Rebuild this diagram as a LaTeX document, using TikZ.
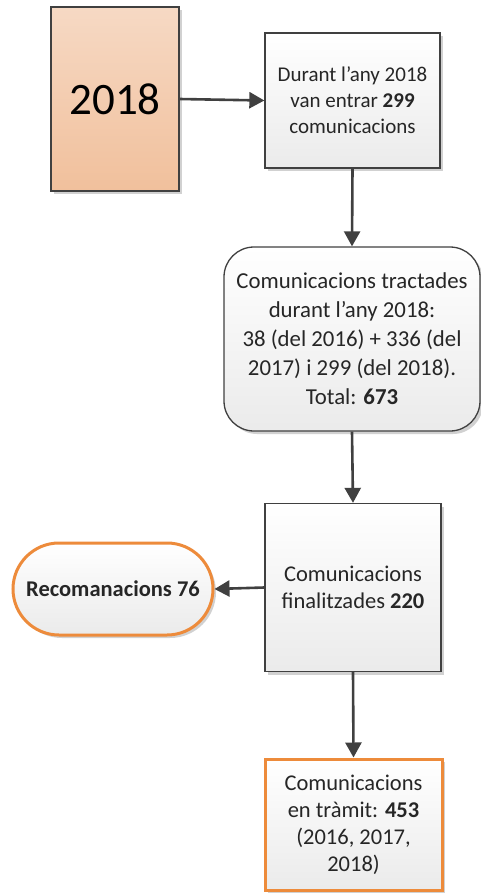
\documentclass[tikz,border=0pt]{standalone}
\usepackage{fontspec}
\setmainfont{Carlito}
\usetikzlibrary{arrows.meta,shadows}
\definecolor{edge}{HTML}{404040}
\definecolor{orng}{HTML}{ED8B3B}
\tikzset{
  shd/.style={drop shadow={shadow xshift=3pt,shadow yshift=-3pt,fill=black,opacity=0.18}},
  graybox/.style={shd,draw=edge,line width=1.3pt,top color=white,bottom color=black!8,align=center,inner sep=2pt,text=black!85},
  orangebox/.style={shd,draw=orng,line width=3pt,top color=white,bottom color=black!8,align=center,inner sep=2pt,text=black!85},
  arr/.style={draw=edge,line width=2.6pt,-{Triangle[length=15pt,width=16pt]}},
}
\begin{document}
\begin{tikzpicture}[x=1pt,y=-1pt]
\useasboundingbox (0,0) rectangle (481,894);
\node[shd,draw=edge,line width=1.3pt,top color={rgb,255:red,246;green,217;blue,196},bottom color={rgb,255:red,241;green,192;blue,156},
  minimum width=128pt,minimum height=184pt,font=\fontsize{45}{52}\selectfont] (y) at (115,99) {2018};
\node[graybox,minimum width=175pt,minimum height=135pt,font=\fontsize{21}{26}\selectfont] (b2) at (352.5,100.5)
  {Durant l’any 2018\\van entrar \textbf{299}\\comunicacions};
\node[graybox,rounded corners=30pt,minimum width=256pt,minimum height=184pt,font=\fontsize{22.8}{29}\selectfont] (b3) at (352,339)
  {Comunicacions tractades\\durant l’any 2018:\\38 (del 2016) + 336 (del\\2017) i 299 (del 2018).\\Total: \textbf{673}};
\node[graybox,minimum width=176pt,minimum height=168pt,font=\fontsize{22.5}{27}\selectfont] (b4) at (353,587.5)
  {Comunicacions\\finalitzades \textbf{220}};
\node[orangebox,rounded corners=46pt,minimum width=200pt,minimum height=92pt,font=\fontsize{22.5}{27}\selectfont\bfseries] (rec) at (113,589)
  {Recomanacions 76};
\node[orangebox,minimum width=177pt,minimum height=131pt,font=\fontsize{22.5}{27}\selectfont] (b5) at (353.5,824.5)
  {Comunicacions\\en tràmit: \textbf{453}\\(2016, 2017,\\2018)};
\draw[arr] (y.east) -- (b2.west);
\draw[arr] (b2.south) -- (b3.north);
\draw[arr] (b3.south) -- (b4.north);
\draw[arr] (b4.west) -- (rec.east);
\draw[arr] (b4.south) -- (b5.north);
\end{tikzpicture}
\end{document}
